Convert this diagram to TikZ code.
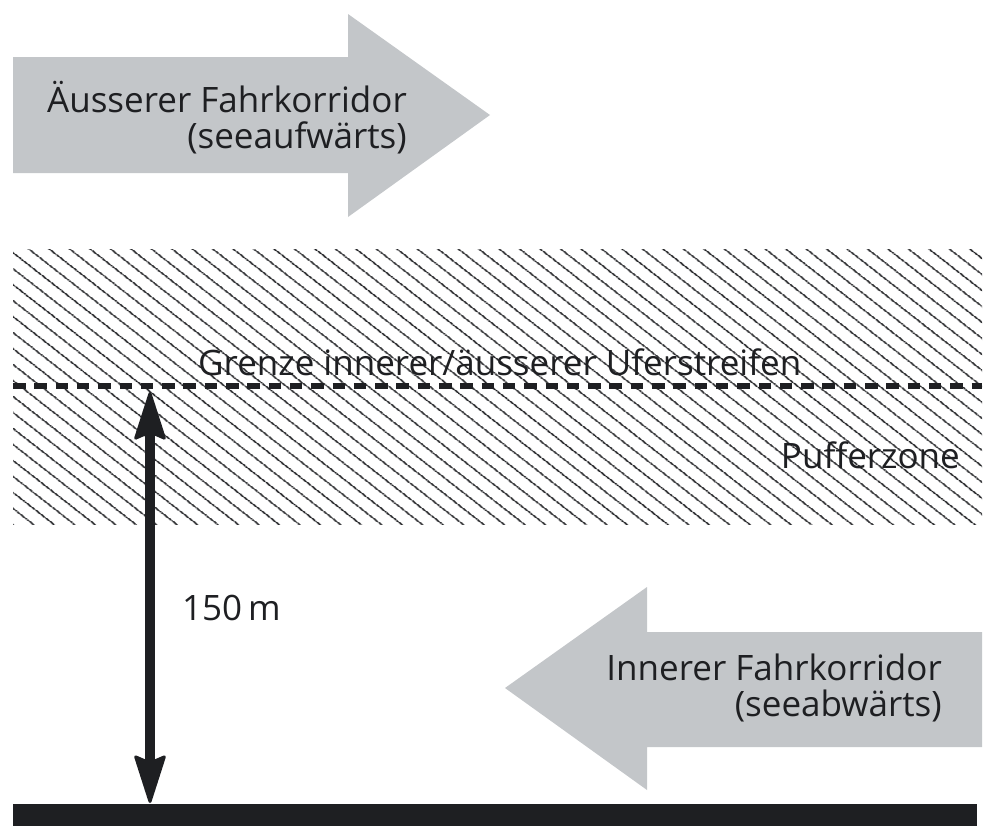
\documentclass[tikz,border=0pt]{standalone}
\usepackage{fontspec}
\setmainfont{Open Sans}
\usetikzlibrary{arrows.meta}
\usetikzlibrary{patterns.meta}
\definecolor{ink}{RGB}{30,31,34}
\definecolor{corridor}{RGB}{195,198,201}

\begin{document}
\begin{tikzpicture}[x=1pt, y=-1pt,
  lbl/.style={text=ink, inner sep=0, font=\fontsize{35}{36}\selectfont},
  dimline/.style={ink, line width=10pt, <->, >={Stealth[length=52pt, width=33pt, inset=7pt, round, line width=3pt]}}]
\useasboundingbox (0,0) rectangle (998,827);
% buffer zone with hatching
\fill[pattern={Lines[angle=-38, distance=13pt, line width=1.7pt]}, pattern color=ink] (13,249) rectangle (982,524);
\coordinate (gl) at (13,386);
\coordinate (gr) at (982,386);
\draw[ink, line width=5.5pt, dash pattern=on 12.5pt off 8.8pt] (gl) -- (gr);
\node[lbl, anchor=base west] (grenze) at (198,375) {Grenze innerer/äusserer Uferstreifen};
\node[lbl, anchor=base east] (puffer) at (960,468) {Pufferzone};
% corridors
\fill[corridor] (13,57) -- (348,57) -- (348,14) -- (490,115) -- (348,217) -- (348,173) -- (13,173) -- cycle;
\node[lbl, align=right, anchor=base east] (outer) at (407,148) {Äusserer Fahrkorridor\\(seeaufwärts)};
\fill[corridor] (982,632) -- (647,632) -- (647,587) -- (505,688) -- (647,790) -- (647,747) -- (982,747) -- cycle;
\node[lbl, align=right, anchor=base east] (inner) at (942,716) {Innerer Fahrkorridor\\(seeabwärts)};
% shore and distance
\fill[ink] (13,804) rectangle (977,826);
\coordinate (top) at (150,392);
\coordinate (shore) at (150,803);
\draw[dimline] (top) -- (shore);
\node[lbl, anchor=base west] (dist) at (182,620) {150\,m};
\end{tikzpicture}
\end{document}
